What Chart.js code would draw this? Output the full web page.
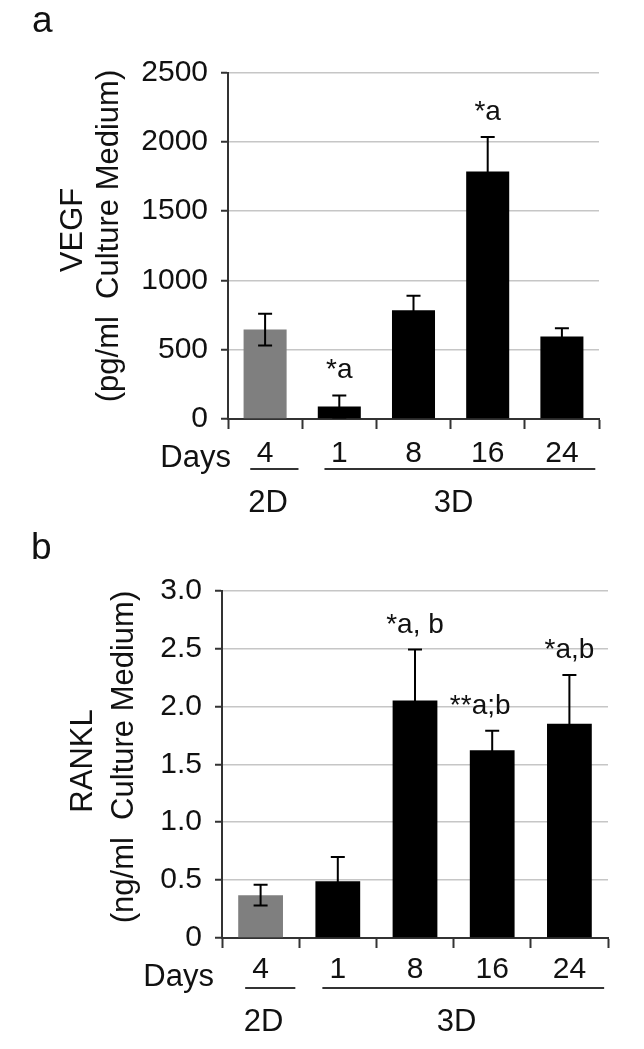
<!DOCTYPE html>
<html>
<head>
<meta charset="utf-8">
<style>
  body { margin: 0; background: #fff; }
  canvas { position: absolute; left: 0; }
</style>
</head>
<body>
<canvas id="vegfChart" width="644" height="525" style="top:0"></canvas>
<canvas id="ranklChart" width="644" height="524" style="top:525px"></canvas>
<script src="https://cdn.jsdelivr.net/npm/chart.js@4.4.1/dist/chart.umd.min.js"></script>
<script>
// data
const days = ["4", "1", "8", "16", "24"];
const groups = [["2D", 0, 0], ["3D", 1, 4]];
const barColors = ["#7f7f7f", "#000", "#000", "#000", "#000"];

const vegf = [645, 90, 785, 1785, 595];
const vegfErr = [115, 80, 105, 250, 60];
const vegfNotes = ["", "*a", "", "*a", ""];
const vegfTicks = [0, 500, 1000, 1500, 2000, 2500];

const rankl = [0.37, 0.49, 2.05, 1.62, 1.85];
const ranklErr = [0.09, 0.21, 0.44, 0.17, 0.42];
const ranklNotes = ["", "", "*a, b", "**a;b", "*a,b"];
const ranklTicks = [0, 0.5, 1.0, 1.5, 2.0, 2.5, 3.0];

const FONT = "'Liberation Sans', Arial, sans-serif";
const INK = "#111";

// error bars, significance notes, Days row, group lines, y titles, panel letter
const extras = {
    id: "extras",
    afterDatasetsDraw(chart, args, o) {
        const ctx = chart.ctx, y = chart.scales.y;
        const vals = chart.data.datasets[0].data;
        ctx.save();
        ctx.strokeStyle = "#000";
        ctx.lineWidth = 2;
        ctx.fillStyle = INK;
        ctx.font = "28px " + FONT;
        ctx.textAlign = "center";
        ctx.textBaseline = "alphabetic";
        chart.getDatasetMeta(0).data.forEach((bar, i) => {
            const yt = y.getPixelForValue(vals[i] + o.err[i]);
            const yb = y.getPixelForValue(vals[i] - o.err[i]);
            ctx.beginPath();
            ctx.moveTo(bar.x, yt); ctx.lineTo(bar.x, yb);
            ctx.moveTo(bar.x - 7, yt); ctx.lineTo(bar.x + 7, yt);
            ctx.moveTo(bar.x - 7, yb); ctx.lineTo(bar.x + 7, yb);
            ctx.stroke();
            if (o.notes[i]) ctx.fillText(o.notes[i], bar.x + (o.noteDx[i] || 0), yt - 17);
        });
        ctx.restore();
    },
    afterDraw(chart, args, o) {
        const ctx = chart.ctx, x = chart.scales.x, area = chart.chartArea;
        const base = area.bottom;
        const w = x.width / chart.data.labels.length;
        ctx.save();
        ctx.fillStyle = INK;
        ctx.strokeStyle = "#333";
        ctx.lineWidth = 2;
        ctx.font = "31px " + FONT;
        ctx.textBaseline = "alphabetic";
        ctx.textAlign = "right";
        ctx.fillText("Days", o.daysX, base + 48);
        ctx.textAlign = "center";
        groups.forEach(([name, a, b]) => {
            const ca = x.getPixelForValue(a), cb = x.getPixelForValue(b);
            ctx.beginPath();
            ctx.moveTo(ca - 0.2 * w, base + 50);
            ctx.lineTo(cb + 0.45 * w, base + 50);
            ctx.stroke();
            ctx.fillText(name, (ca + cb) / 2 + 3, base + 93);
        });
        // rotated y title, two lines
        ctx.font = "31px " + FONT;
        o.title.forEach((t, i) => {
            ctx.save();
            ctx.translate(o.titleX[i], o.titleY[i]);
            ctx.rotate(-Math.PI / 2);
            ctx.fillText(t, 0, 0);
            ctx.restore();
        });
        ctx.font = "37px " + FONT;
        ctx.textAlign = "left";
        ctx.fillText(o.letter, o.letterX, o.letterY);
        ctx.restore();
    }
};

function makeChart(id, vals, err, notes, ticks, opts) {
    const top = ticks[ticks.length - 1];
    return new Chart(id, {
        type: "bar",
        data: {
            labels: days,
            datasets: [{
                data: vals,
                backgroundColor: barColors,
                borderWidth: 0,
                barPercentage: 0.58,
                categoryPercentage: 1
            }]
        },
        plugins: [extras],
        options: {
            responsive: false,
            animation: false,
            events: [],
            layout: { padding: { left: 0, top: opts.padTop, right: opts.padRight, bottom: 0 } },
            plugins: {
                legend: { display: false },
                tooltip: { enabled: false },
                extras: {
                    err: err, notes: notes, noteDx: opts.noteDx || [],
                    title: opts.title, titleX: opts.titleX, titleY: opts.titleY,
                    daysX: opts.daysX, letter: opts.letter, letterX: opts.letterX, letterY: opts.letterY
                }
            },
            scales: {
                x: {
                    afterFit: (s) => { s.height = opts.xHeight; },
                    grid: {
                        offset: true, drawOnChartArea: false, drawTicks: true,
                        tickLength: 10, tickColor: "#333", tickWidth: 2
                    },
                    border: { color: "#333", width: 2 },
                    ticks: { color: INK, font: { family: FONT, size: 30 }, padding: opts.xPad, maxRotation: 0 }
                },
                y: {
                    min: 0, max: top,
                    afterFit: (s) => { s.width = opts.yWidth; },
                    afterBuildTicks: (s) => { s.ticks = ticks.map(v => ({ value: v })); },
                    grid: {
                        color: (c) => c.tick && c.tick.value === 0 ? "#333" : "#c6c6c6",
                        lineWidth: 1.5,
                        tickLength: 7, tickColor: "#333", tickWidth: 2
                    },
                    border: { color: "#333", width: 2 },
                    ticks: {
                        color: INK, font: { family: FONT, size: 30 }, padding: 13,
                        callback: opts.fmt
                    }
                }
            }
        }
    });
}

makeChart("vegfChart", vegf, vegfErr, vegfNotes, vegfTicks, {
    padTop: 72.5, padRight: 45, yWidth: 228, xHeight: 106, xPad: 7,
    fmt: (v) => String(v),
    title: ["VEGF", "(pg/ml  Culture Medium)"], titleX: [82, 118], titleY: [230, 236],
    daysX: 231, letter: "a", letterX: 32, letterY: 32
});

makeChart("ranklChart", rankl, ranklErr, ranklNotes, ranklTicks, {
    padTop: 65.5, padRight: 36, yWidth: 222, xHeight: 111, xPad: 4,
    fmt: (v) => v === 0 ? "0" : v.toFixed(1),
    noteDx: [0, 0, 0, -12, 0],
    title: ["RANKL", "(ng/ml  Culture Medium)"], titleX: [92, 133], titleY: [236, 232],
    daysX: 214, letter: "b", letterX: 31, letterY: 34
});
</script>
</body>
</html>
